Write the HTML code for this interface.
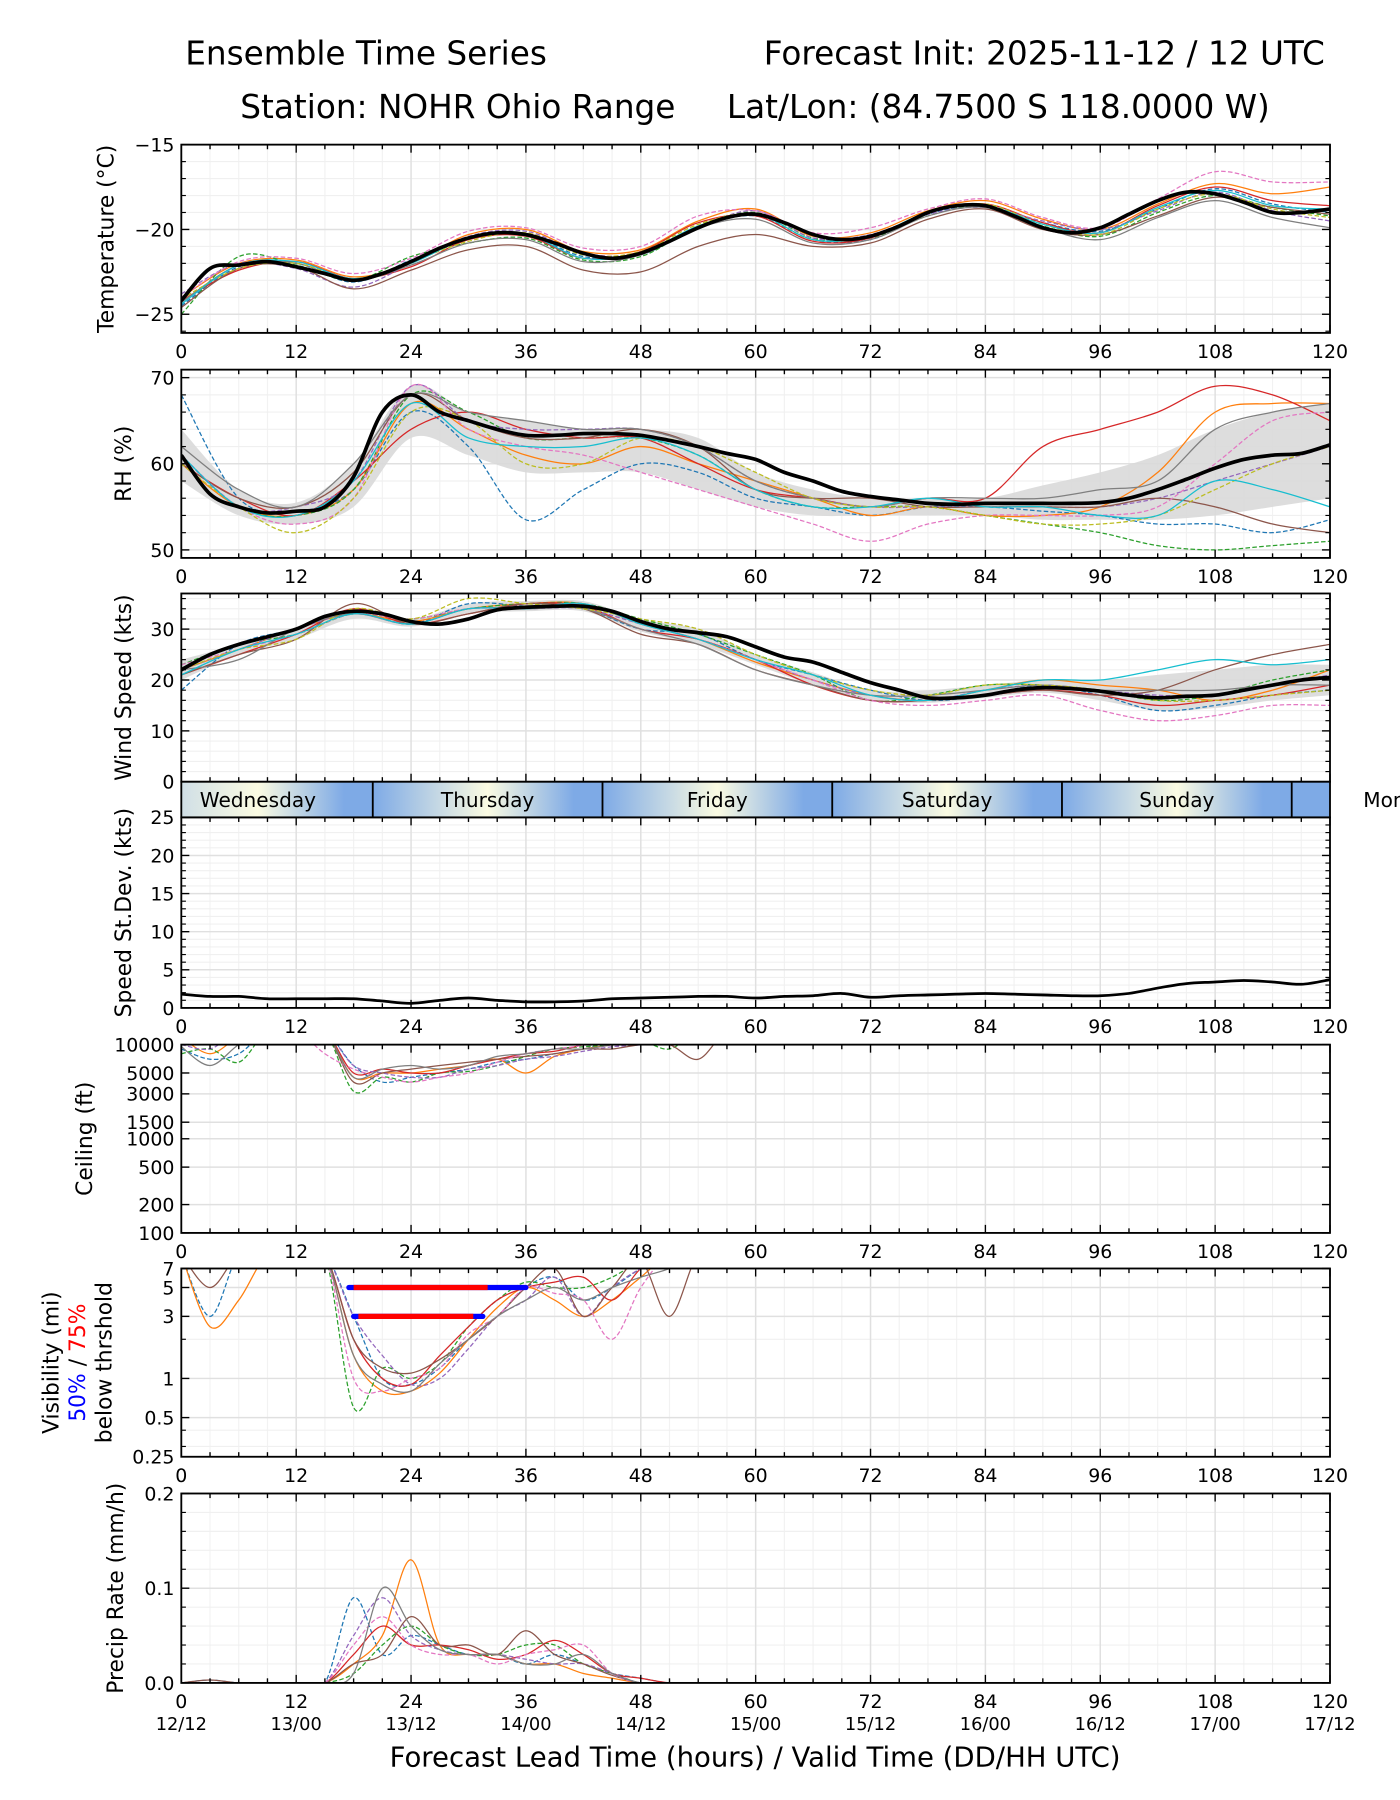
<!DOCTYPE html>
<html><head><meta charset="utf-8"><style>
html,body{margin:0;padding:0;background:#fff}
svg{display:block;font-family:"DejaVu Sans","Liberation Sans",sans-serif}
</style></head><body>
<svg id="chart" width="1400" height="1800" viewBox="0 0 1220 1568" preserveAspectRatio="none" xmlns="http://www.w3.org/2000/svg">
<defs><linearGradient id="dayGrad" gradientUnits="userSpaceOnUse" x1="158" y1="0" x2="1159" y2="0"></linearGradient></defs>
<text x="319" y="56" font-size="28.5" text-anchor="middle">Ensemble Time Series</text>
<text x="910" y="56" font-size="28.5" text-anchor="middle">Forecast Init: 2025-11-12 / 12 UTC</text>
<text x="399" y="103" font-size="28.5" text-anchor="middle">Station: NOHR Ohio Range</text>
<text x="870" y="103" font-size="28.5" text-anchor="middle">Lat/Lon: (84.7500 S 118.0000 W)</text>
<text x="658" y="1539" font-size="24" text-anchor="middle">Forecast Lead Time (hours) / Valid Time (DD/HH UTC)</text>
<g id="root"></g>
</svg>
<script>
const hours3 = Array.from({length:41},(_, i)=>i*3);
const hours6 = Array.from({length:21},(_, i)=>i*6);
const hoursShort = Array.from({length:21},(_, i)=>i*3);
const xTicks = [0,12,24,36,48,60,72,84,96,108,120];
const dateLabels = ["12/12","13/00","13/12","14/00","14/12","15/00","15/12","16/00","16/12","17/00","17/12"];
const dayNames = ["Wednesday","Thursday","Friday","Saturday","Sunday","Monday"];
const dayBoundaries = [20,44,68,92,116];
const colors = ["#1f77b4","#ff7f0e","#2ca02c","#d62728","#9467bd","#8c564b","#e377c2","#7f7f7f","#bcbd22","#17becf"];

const tempMean = [-24.2,-22.3,-22.1,-21.9,-22.2,-22.6,-23.0,-22.6,-21.9,-21.1,-20.5,-20.2,-20.3,-20.8,-21.4,-21.7,-21.4,-20.7,-19.9,-19.3,-19.1,-19.6,-20.3,-20.6,-20.4,-19.8,-19.0,-18.6,-18.6,-19.2,-19.9,-20.2,-19.9,-19.1,-18.3,-17.8,-17.9,-18.4,-19.0,-19.0,-18.8];
const tempMembers = [
[-24.5,-22.2,-22.0,-23.1,-21.8,-20.5,-20.3,-21.6,-21.5,-19.9,-19.2,-20.6,-20.6,-19.1,-18.6,-19.6,-20.1,-18.8,-17.6,-18.5,-19.0],
[-24.0,-22.0,-21.8,-22.8,-22.0,-20.3,-20.0,-21.3,-21.2,-19.5,-18.8,-20.4,-20.2,-18.9,-18.3,-19.4,-20.0,-18.5,-17.3,-17.9,-17.5],
[-25.0,-21.6,-22.1,-23.0,-21.6,-20.8,-20.5,-21.8,-21.6,-19.8,-19.0,-20.5,-20.5,-19.2,-18.6,-19.8,-20.4,-19.0,-18.0,-18.7,-19.2],
[-24.2,-22.4,-21.9,-22.9,-22.2,-20.6,-20.4,-21.7,-21.3,-19.6,-19.2,-20.7,-20.5,-19.0,-18.5,-19.6,-20.2,-18.6,-17.5,-18.3,-18.6],
[-23.8,-22.0,-22.3,-23.4,-22.0,-20.4,-20.1,-21.4,-21.4,-19.9,-18.9,-20.5,-20.3,-19.1,-18.7,-19.5,-20.0,-18.9,-17.8,-18.9,-19.5],
[-24.6,-22.3,-22.2,-23.5,-22.4,-21.2,-21.0,-22.4,-22.5,-21.0,-20.3,-21.0,-20.8,-19.4,-18.8,-20.0,-20.3,-19.2,-18.1,-18.7,-19.1],
[-24.0,-21.9,-21.7,-22.6,-21.7,-20.1,-19.9,-21.1,-21.0,-19.2,-18.9,-20.2,-19.9,-18.8,-18.2,-19.3,-19.9,-18.2,-16.6,-17.2,-17.2],
[-24.3,-22.1,-22.0,-23.0,-22.1,-20.8,-20.6,-21.9,-21.5,-19.9,-19.4,-20.8,-20.6,-19.2,-18.7,-19.9,-20.6,-19.3,-18.3,-19.3,-19.9],
[-24.1,-22.3,-22.0,-22.9,-21.9,-20.7,-20.2,-21.5,-21.3,-19.7,-19.1,-20.6,-20.4,-19.0,-18.5,-19.7,-20.3,-18.8,-17.9,-18.8,-19.3],
[-24.4,-22.1,-21.9,-22.9,-22.0,-20.5,-20.3,-21.7,-21.4,-19.8,-19.1,-20.6,-20.4,-19.0,-18.6,-19.7,-20.2,-18.7,-17.7,-18.6,-18.8]];

const rhMean = [61,56.5,55,54.3,54.5,55,58.5,66,68,66,65,64,63.3,63.3,63.5,63.5,63.3,62.7,62,61.2,60.5,59,58,56.8,56.2,55.8,55.4,55.3,55.4,55.4,55.4,55.4,55.5,56,57,58.2,59.5,60.5,61,61.2,62.2];
const rhLo = [58,54,53,55,63,61,59,59,59,57,55,54,54,54,54,53.5,53.5,53.5,54,55,56];
const rhHi = [64,57,55.5,60,69,66,65,64,64,63,59,57,56,56,56,57.5,59,61,64,66,67];
const rhMembers = [
[68,56,54.5,57,66,62,53.5,57,60,59,56,55,54,55,55,54.5,54,53,53,52,53.5],
[60,55,54,57,67,64,61,60,62,60,58,56,54,55,54,54,55,59,66,67,67],
[61,55,54,57,68,66,63,63,63,61,57,55,55,55,54,53,52,50.5,50,50.5,51],
[60,56,54,58,64,66,64,63,63,60,57,56,55,56,56,62,64,66,69,68,65],
[61,55,55,58,69,65,64,64,64,62,58,56,55,55,55,55,55,56,58,60,62],
[60,56,55,59,68,65,63,63,64,62,57,56,56,55,55,55,55,56,55,53,52],
[61,55,53,56,69,64,62,61,59,57,55,53,51,53,54,54,54,55,60,65,66],
[62,57,55,60,68,66,65,64,64,62,58,56,55,56,56,56,57,58,64,66,67],
[60,55,52,56,66,65,60,60,63,62,59,56,55,55,54,53,53,54,57,60,62],
[61,55,54,58,67,63,62,62,63,61,57,55,55,56,55,55,54,54,58,57,55]];

const windMean = [22,25,27,28.5,30,32.5,33.5,33,31.5,31,32,33.8,34.3,34.5,34.5,33.5,31.5,30,29.3,28.5,26.5,24.5,23.5,21.5,19.5,18,16.5,16.5,17,18,18.5,18.3,17.8,17,16.5,16.8,17,18,19,20,20.5];
const windLo = [20,25,28,32,30.5,33,33.5,33.5,29.5,27,23,19,16,15.5,16.5,17.5,16,14,14.5,16,17];
const windHi = [24,27,30,34,32,35,35.5,35.5,32,30,25,21.5,18,18,19,20,20,21,22,23,23];
const windMembers = [
[18,27,30,33.5,31,35,34.5,34,30,29,24,21,18,16,17,19,17,14,15,17,18],
[22,26,30,33,31.5,34,35,35,31,28,23.5,20,17,16,18,20,19,18,16,18,22],
[23,27,29,33,32,34,35,35,32,29,25,21,16,17,19,19,18,16,17,20,22],
[21,25,29,34,31,33,35,34.5,30,28,24,19,16,16,17,18,17,15,16,17,19],
[22,26,30,33,31,34,34,34,31,28,24,20,17,16,18,19,18,17,17,19,21],
[21,25,28,35,31,33,35,34,29,27,22,19,16,16,17,18,17,18,22,25,27],
[23,26,29,33,32,34,34,35,31,28,24,20,16,15,16,17,14,12,13,15,15],
[22,24,30,33,31,34,34,34,30,27,22,19,17,17,18,19,18,18,18,19,19],
[22,26,28,34,32,36,35,34,32,30,25,21,18,17,19,19,18,16,16,17,18],
[21,26,29,33,31,34,34,35,31,28,24,21,17,16,18,20,20,22,24,23,24]];

const stdDev = [1.8,1.5,1.5,1.2,1.2,1.2,1.2,0.9,0.6,1,1.3,1,0.8,0.8,0.9,1.2,1.3,1.4,1.5,1.5,1.3,1.5,1.6,1.9,1.4,1.6,1.7,1.8,1.9,1.8,1.7,1.6,1.6,1.9,2.6,3.2,3.4,3.6,3.4,3.1,3.7];

const ceilMembers = [
[9000,7000,8000,15000,20000,20000,6000,4000,4500,5000,5500,6500,7000,8000,9000,11000,15000,20000,20000,20000,20000],
[12000,8000,12000,20000,20000,20000,4500,5000,5000,5500,6000,7000,5000,7500,9000,10000,12000,20000,20000,20000,20000],
[8000,9000,6500,15000,20000,20000,3200,4500,4000,5000,5200,6000,7500,9000,9500,10000,11000,9000,20000,20000,20000],
[20000,10000,20000,20000,20000,20000,5000,5500,5000,5000,6000,7000,8000,8500,10000,12000,20000,20000,20000,20000,20000],
[10000,9000,20000,20000,20000,20000,6000,5000,4500,4500,5500,6000,7000,7500,8500,9500,10000,12000,20000,20000,20000],
[20000,20000,20000,20000,20000,20000,4000,5000,5500,6000,6500,7000,7500,8000,9000,9000,10000,10000,7000,20000,20000],
[20000,20000,20000,20000,20000,8000,5500,4500,4000,4500,5000,6500,8000,9000,10000,20000,20000,20000,20000,20000,20000],
[9500,6000,10000,20000,20000,20000,4500,5500,6000,5500,6000,7500,8000,9000,9000,10000,12000,20000,20000,20000,20000]];

const visMembers = [
[10,3,10,10,10,10,3,1,0.9,1.2,2,3,5,6,4,5,7,10,10,10,10],
[10,2.5,4,10,10,10,1.5,0.8,0.8,1.1,2,3.5,5,4,3,4,6,10,10,10,10],
[10,10,10,10,10,10,0.6,1.2,1,1.3,2.5,4,5.5,5,5,6,8,10,10,10,10],
[10,10,10,10,10,10,2,1,0.9,1.5,2.5,4,5,5.5,6,4,7,10,10,10,10],
[10,10,10,10,10,10,3,1.5,0.9,1,1.7,3,4,6,3,5,7,10,10,10,10],
[10,5,10,10,10,10,2,1.2,1.1,1.4,2,3,5,7,3,5,8,3,10,10,10],
[10,10,10,10,10,10,1,0.8,1,1.2,2.2,3,5,4.5,4,2,5,10,10,10,10],
[10,10,10,10,10,10,1.5,0.9,0.8,1.3,2,3,4,5,4,5,6,7,10,10,10]];
const visThresholds = [5,3];
const vis75Start = [18,18.5];
const vis75End = [32,30.5];
const vis50End = [36,31.5];

const precipMembers = [
[0,0.003,0,0,0,0,0.09,0.03,0.05,0.04,0.03,0.03,0.02,0.03,0.02,0.01,0.005,0,0,0,0],
[0,0,0,0,0,0,0.02,0.05,0.13,0.04,0.03,0.03,0.02,0.02,0.01,0.005,0,0,0,0,0],
[0,0,0,0,0,0,0.01,0.04,0.06,0.04,0.03,0.03,0.04,0.04,0.02,0.01,0,0,0,0,0],
[0,0,0,0,0,0,0.03,0.06,0.04,0.04,0.035,0.025,0.03,0.045,0.03,0.01,0.005,0,0,0,0],
[0,0,0,0,0,0,0.05,0.09,0.05,0.035,0.03,0.03,0.025,0.02,0.02,0.01,0,0,0,0,0],
[0,0.003,0,0,0,0,0.02,0.03,0.07,0.04,0.04,0.03,0.055,0.03,0.02,0.008,0,0,0,0,0],
[0,0,0,0,0,0,0.04,0.07,0.04,0.03,0.03,0.02,0.03,0.035,0.04,0.01,0,0,0,0,0],
[0,0,0,0,0,0,0.01,0.1,0.06,0.035,0.03,0.03,0.02,0.02,0.03,0.01,0,0,0,0,0]];

const NS="http://www.w3.org/2000/svg";
const root=document.getElementById('root');
const X0=158,X1=1159;
const TICK_FS=16.5, YLAB_FS=19;
function X(h){return X0+h*(X1-X0)/120;}
function mk(tag,attrs,parent){const e=document.createElementNS(NS,tag);for(const k in attrs)e.setAttribute(k,attrs[k]);(parent||root).appendChild(e);return e;}
function smooth(pts){
  if(pts.length<2)return "";
  let d="M"+pts[0][0].toFixed(1)+","+pts[0][1].toFixed(1);
  for(let i=0;i<pts.length-1;i++){
    const p0=pts[Math.max(0,i-1)],p1=pts[i],p2=pts[i+1],p3=pts[Math.min(pts.length-1,i+2)];
    const c1=[p1[0]+(p2[0]-p0[0])/6,p1[1]+(p2[1]-p0[1])/6],c2=[p2[0]-(p3[0]-p1[0])/6,p2[1]-(p3[1]-p1[1])/6];
    d+="C"+c1[0].toFixed(1)+","+c1[1].toFixed(1)+" "+c2[0].toFixed(1)+","+c2[1].toFixed(1)+" "+p2[0].toFixed(1)+","+p2[1].toFixed(1);
  }
  return d;
}
let clipId=0;
function panel(cfg){
  const g=mk('g',{});
  
  
  const Y=cfg.log?(v=>cfg.bot-(Math.log10(v)-Math.log10(cfg.ymin))/(Math.log10(cfg.ymax)-Math.log10(cfg.ymin))*(cfg.bot-cfg.top))
                 :(v=>cfg.bot-(v-cfg.ymin)/(cfg.ymax-cfg.ymin)*(cfg.bot-cfg.top));
  const id='clip'+(clipId++);
  const cp=mk('clipPath',{id},g);mk('rect',{x:X0,y:cfg.top,width:X1-X0,height:cfg.bot-cfg.top},cp);
  for(let h=3;h<120;h+=3){if(h%12)mk('line',{x1:X(h),x2:X(h),y1:cfg.top,y2:cfg.bot,stroke:'#f2f2f2','stroke-width':1},g);}
  (cfg.minor||[]).forEach(v=>mk('line',{x1:X0,x2:X1,y1:Y(v),y2:Y(v),stroke:'#f0f0f0','stroke-width':1},g));
  for(let h=12;h<120;h+=12)mk('line',{x1:X(h),x2:X(h),y1:cfg.top,y2:cfg.bot,stroke:'#e0e0e0','stroke-width':1.3},g);
  cfg.ticks.forEach(v=>mk('line',{x1:X0,x2:X1,y1:Y(v),y2:Y(v),stroke:'#e0e0e0','stroke-width':1.3},g));
  const pg=mk('g',{'clip-path':'url(#'+id+')'},g);
  cfg.draw(pg,Y);
  mk('rect',{x:X0,y:cfg.top,width:X1-X0,height:cfg.bot-cfg.top,fill:'none',stroke:'#000','stroke-width':1.6},g);
  for(let h=0;h<=120;h+=3){const L=h%12?4:7;
    mk('line',{x1:X(h),x2:X(h),y1:cfg.bot,y2:cfg.bot-L,stroke:'#000','stroke-width':1.2},g);
    mk('line',{x1:X(h),x2:X(h),y1:cfg.top,y2:cfg.top+L,stroke:'#000','stroke-width':1.2},g);}
  cfg.ticks.forEach((v,i)=>{mk('line',{x1:X0,x2:X0+7,y1:Y(v),y2:Y(v),stroke:'#000','stroke-width':1.2},g);
    mk('line',{x1:X1,x2:X1-7,y1:Y(v),y2:Y(v),stroke:'#000','stroke-width':1.2},g);
    const t=mk('text',{x:X0-6,y:Y(v)+6,'font-size':TICK_FS,'text-anchor':'end'},g);t.textContent=cfg.tickLabels[i];
    
    });
  (cfg.minor||[]).forEach(v=>{mk('line',{x1:X0,x2:X0+4,y1:Y(v),y2:Y(v),stroke:'#000','stroke-width':1},g);mk('line',{x1:X1,x2:X1-4,y1:Y(v),y2:Y(v),stroke:'#000','stroke-width':1},g);});
  if(cfg.xlabels){xTicks.forEach(h=>{const t=mk('text',{x:X(h),y:cfg.bot+22,'font-size':TICK_FS,'text-anchor':'middle'},g);t.textContent=h;
    
    });}
  if(cfg.ylabel){const t=mk('text',{x:0,y:0,'font-size':YLAB_FS,'text-anchor':'middle',transform:'translate('+cfg.ylx+','+((cfg.top+cfg.bot)/2)+') rotate(-90)'},g);t.textContent=cfg.ylabel;
    
    }
  return g;
}
function members(pg,Y,hrs,arr,cap){
  arr.forEach((m,i)=>{const p=mk('path',{d:smooth(m.map((v,j)=>[X(hrs[j]),Y(cap?Math.min(v,cap):v)])),fill:'none',stroke:colors[i%10],'stroke-width':1.1,'stroke-dasharray':i%2?'':'4,2'},pg);
    
    });
}
function band(pg,Y,lo,hi){const up=hi.map((v,j)=>[X(hours6[j]),Y(v)]),dn=lo.map((v,j)=>[X(hours6[j]),Y(v)]).reverse();
  const p=mk('path',{d:smooth(up)+"L"+smooth(dn).slice(1)+"Z",fill:'#d9d9d9',opacity:0.9},pg);
  
  }
function meanLine(pg,Y,arr,w){const p=mk('path',{d:smooth(arr.map((v,j)=>[X(hours3[j]),Y(v)])),fill:'none',stroke:'#000','stroke-width':w||3.2},pg);
  
  }

panel({name:'temperature',top:126,bot:290,ymin:-26.1,ymax:-15,ticks:[-25,-20,-15],tickLabels:['\u221225','\u221220','\u221215'],minor:[-26,-24,-23,-22,-21,-19,-18,-17,-16],xlabels:true,ylabel:'Temperature (\u00B0C)',ylx:99,
  draw:(pg,Y)=>{members(pg,Y,hours6,tempMembers);meanLine(pg,Y,tempMean);}});
panel({name:'rh',top:322,bot:486,ymin:49.07,ymax:70.93,ticks:[50,60,70],tickLabels:['50','60','70'],minor:[52,54,56,58,62,64,66,68],xlabels:true,ylabel:'RH (%)',ylx:114,
  draw:(pg,Y)=>{band(pg,Y,rhLo,rhHi);members(pg,Y,hours6,rhMembers);meanLine(pg,Y,rhMean);}});
panel({name:'wind-speed',top:517,bot:681,ymin:0,ymax:37,ticks:[0,10,20,30],tickLabels:['0','10','20','30'],minor:[2,4,6,8,12,14,16,18,22,24,26,28,32,34,36],xlabels:false,ylabel:'Wind Speed (kts)',ylx:114,
  draw:(pg,Y)=>{band(pg,Y,windLo,windHi);members(pg,Y,hours6,windMembers);meanLine(pg,Y,windMean);}});
panel({name:'speed-stdev',top:712,bot:878,ymin:0,ymax:25,ticks:[0,5,10,15,20,25],tickLabels:['0','5','10','15','20','25'],minor:[1,2,3,4,6,7,8,9,11,12,13,14,16,17,18,19,21,22,23,24],xlabels:true,ylabel:'Speed St.Dev. (kts)',ylx:114,
  draw:(pg,Y)=>{meanLine(pg,Y,stdDev,2.4);}});
panel({name:'ceiling',top:910,bot:1074,ymin:100,ymax:10000,log:true,ticks:[100,200,500,1000,1500,3000,5000,10000],tickLabels:['100','200','500','1000','1500','3000','5000','10000'],minor:[],xlabels:true,ylabel:'Ceiling (ft)',ylx:80,
  draw:(pg,Y)=>{members(pg,Y,hoursShort,ceilMembers,14000);}});
panel({name:'visibility',top:1105,bot:1269,ymin:0.25,ymax:7,log:true,ticks:[0.25,0.5,1,3,5,7],tickLabels:['0.25','0.5','1','3','5','7'],minor:[0.3,0.4,2],xlabels:true,
  draw:(pg,Y)=>{members(pg,Y,hoursShort,visMembers,9);
    visThresholds.forEach((v,i)=>{
      const b=mk('line',{x1:X(vis75Start[i]-0.5),x2:X(vis50End[i]),y1:Y(v),y2:Y(v),stroke:'#0000ff','stroke-width':4.5,'stroke-linecap':'round'},pg);
      
      
      const r=mk('line',{x1:X(vis75Start[i]),x2:X(vis75End[i]),y1:Y(v),y2:Y(v),stroke:'#ff0000','stroke-width':4.5},pg);
      
      });}});
panel({name:'precip',top:1301,bot:1466,ymin:0,ymax:0.2,ticks:[0,0.1,0.2],tickLabels:['0.0','0.1','0.2'],minor:[0.02,0.04,0.06,0.08,0.12,0.14,0.16,0.18],xlabels:true,ylabel:'Precip Rate (mm/h)',ylx:107,
  draw:(pg,Y)=>{members(pg,Y,hoursShort,precipMembers);}});
(function(){const t=mk('text',{'font-size':YLAB_FS,'text-anchor':'middle',transform:'translate(51,1187) rotate(-90)'});t.textContent='Visibility (mi)';
  
  
  const t2=mk('text',{'font-size':YLAB_FS,'text-anchor':'middle',transform:'translate(74,1187) rotate(-90)'});
  
  
  const a=mk('tspan',{fill:'#0000ff'},t2);a.textContent='50%';const b=mk('tspan',{fill:'#000'},t2);b.textContent=' / ';const c=mk('tspan',{fill:'#ff0000'},t2);c.textContent='75%';
  const t3=mk('text',{'font-size':YLAB_FS,'text-anchor':'middle',transform:'translate(97,1187) rotate(-90)'});t3.textContent='below thrshold';
  
  })();
dateLabels.forEach((s,i)=>{const t=mk('text',{x:X(xTicks[i]),y:1507,'font-size':15.5,'text-anchor':'middle'});t.textContent=s;
  
  });
(function(){
  const gr=document.getElementById('dayGrad');const blue='#7eaae6',pale='#fbfbe2';
  mk('stop',{offset:0,'stop-color':'#d0dfe6'},gr);
  for(let b=-4;b<=140;b+=24){
    [[b,blue],[b+12,pale],[b+21,blue]].forEach(p=>{const off=p[0]/120;if(off>0&&off<=1)mk('stop',{offset:off,'stop-color':p[1]},gr);});
  }
  const g=mk('g',{});
  
  
  mk('rect',{x:X0,y:681,width:X1-X0,height:31,fill:'url(#dayGrad)'},g);
  mk('rect',{x:X0,y:681,width:X1-X0,height:31,fill:'none',stroke:'#000','stroke-width':1.6},g);
  dayBoundaries.forEach(h=>mk('line',{x1:X(h),x2:X(h),y1:681,y2:712,stroke:'#000','stroke-width':1.6},g));
  const starts=[0].concat(dayBoundaries),ends=dayBoundaries.concat([140]);
  dayNames.forEach((n,i)=>{const cx=i===0?X(8):X((starts[i]+ends[i])/2);
    const t=mk('text',{x:i===5?1188:cx,y:703,'font-size':17.5,'text-anchor':i===5?'start':'middle'},g);t.textContent=n;
    
    });
})();
</script>
</body></html>
